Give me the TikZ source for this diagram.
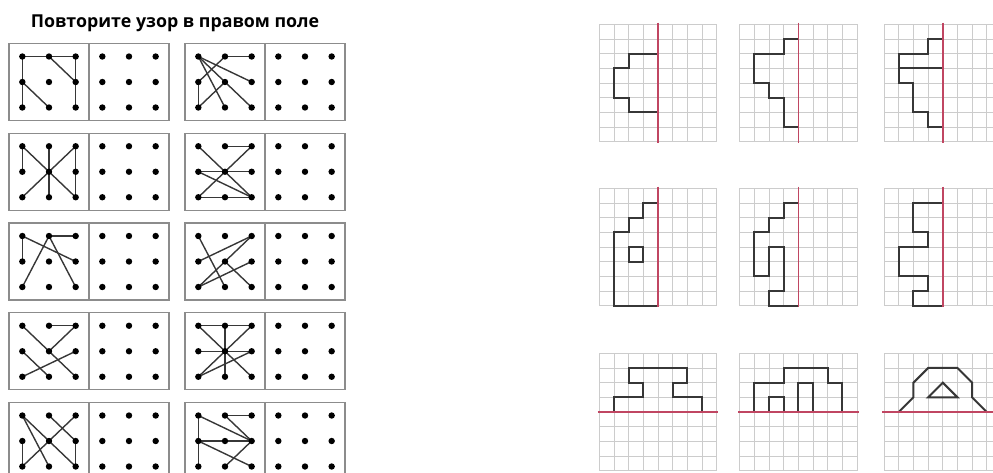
\documentclass[tikz,border=0pt]{standalone}
\usepackage{fontspec}
\setmainfont{Open Sans}
\usetikzlibrary{calc}

\definecolor{mirror}{RGB}{192,70,98}
\definecolor{gridgray}{RGB}{204,204,204}
\definecolor{inkgray}{RGB}{55,55,55}
\definecolor{framegray}{RGB}{140,140,140}

\tikzset{
  panelframe/.style={draw=framegray, line width=1.2pt},
  patline/.style={draw=inkgray, line width=1.4pt},
  gridline/.style={draw=gridgray, line width=0.9pt},
  mirrorline/.style={draw=mirror, line width=1.6pt},
  figline/.style={draw=inkgray, line width=2pt},
}

% dot panel: name, left, top, pattern pairs
\newcommand{\dotpanel}[4]{%
  \foreach \c in {0,1,2}
    \foreach \r in {0,1,2} {
      \coordinate (#1-\c\r) at ({#2+13.33+26.67*\c},{#3+13+25.5*\r});
      \coordinate (#1copy-\c\r) at ({#2+93.33+26.67*\c},{#3+13+25.5*\r});
    }
  \draw[panelframe] (#2,#3) rectangle ++(160,77);
  \draw[panelframe] ({#2+80},#3) -- ++(0,77);
  \foreach \p/\q in {#4} \draw[patline] (#1-\p) to (#1-\q);
  \foreach \c in {0,1,2}
    \foreach \r in {0,1,2} {
      \fill (#1-\c\r) circle [radius=3.2pt];
      \fill (#1copy-\c\r) circle [radius=3.2pt];
    }
}

% 8x8 squared field
\newcommand{\gridbase}{%
  \foreach \k in {0,...,8} {
    \draw[gridline] (\k,0) to (\k,8);
    \draw[gridline] (0,\k) to (8,\k);
  }
}

\begin{document}
\begin{tikzpicture}[x=1pt,y=-1pt]
\useasboundingbox (0,0) rectangle (993,472);
\clip (0,0) rectangle (993,472);

\node[font=\bfseries\fontsize{17.8}{21}\selectfont, anchor=base] (title) at (175,27.7) {Повторите узор в правом поле};

%dot panels
\dotpanel{rowAa}{9}{43.5}{00/20, 00/02, 10/21, 20/22, 01/12}
\dotpanel{rowAb}{185}{43.5}{10/20, 00/21, 00/22, 00/12, 01/10, 01/02, 02/11}
\dotpanel{rowBa}{9}{133.25}{00/01, 00/22, 10/12, 20/02, 20/22}
\dotpanel{rowBb}{185}{133.25}{10/20, 20/02, 00/22, 01/21, 01/22, 02/22}
\dotpanel{rowCa}{9}{223}{00/01, 00/21, 10/20, 10/02, 10/22}
\dotpanel{rowCb}{185}{223}{00/12, 01/20, 02/20, 02/21, 11/22}
\dotpanel{rowDa}{9}{312.75}{00/22, 10/20, 20/11, 01/12, 02/21}
\dotpanel{rowDb}{185}{312.75}{00/20, 10/12, 00/22, 01/21, 20/02, 02/21}
\dotpanel{rowEa}{9}{402.5}{00/12, 00/22, 10/21, 20/02, 01/02, 21/22}
\dotpanel{rowEb}{185}{402.5}{10/20, 00/02, 00/21, 10/21, 01/21, 01/22, 12/21}

%grids, first row
\begin{scope}[shift={(599.3,24.3)}, x=14.67pt, y=-14.67pt]
  \gridbase
  \draw[figline] (4,2) -- (2,2) -- (2,3) -- (1,3) -- (1,5) -- (2,5) -- (2,6) -- (4,6);
  \draw[mirrorline] (4,-0.12) to (4,8.12);
\end{scope}

\begin{scope}[shift={(739.7,24.3)}, x=14.67pt, y=-14.67pt]
  \gridbase
  \draw[figline] (4,1) -- (3,1) -- (3,2) -- (1,2) -- (1,4) -- (2,4) -- (2,5) -- (3,5) -- (3,7) -- (4,7);
  \draw[mirrorline] (4,-0.12) to (4,8.12);
\end{scope}

\begin{scope}[shift={(884.1,24.3)}, x=14.67pt, y=-14.67pt]
  \gridbase
  \draw[figline] (4,1) -- (3,1) -- (3,2) -- (1,2) -- (1,4) -- (2,4) -- (2,6) -- (3,6) -- (3,7) -- (4,7);
  \draw[figline] (1,3) to (4,3);
  \draw[mirrorline] (4,-0.12) to (4,8.12);
\end{scope}

%grids, second row
\begin{scope}[shift={(599.3,188.3)}, x=14.67pt, y=-14.67pt]
  \gridbase
  \draw[figline] (4,1) -- (3,1) -- (3,2) -- (2,2) -- (2,3) -- (1,3) -- (1,8) -- (4,8);
  \draw[figline] (2,4) rectangle (3,5);
  \draw[mirrorline] (4,-0.12) to (4,8.12);
\end{scope}

\begin{scope}[shift={(739.7,188.3)}, x=14.67pt, y=-14.67pt]
  \gridbase
  \draw[figline] (4,1) -- (3,1) -- (3,2) -- (2,2) -- (2,3) -- (1,3) -- (1,6) -- (2,6) -- (2,4) -- (3,4) -- (3,7) -- (2,7) -- (2,8) -- (4,8);
  \draw[mirrorline] (4,-0.12) to (4,8.12);
\end{scope}

\begin{scope}[shift={(884.1,188.3)}, x=14.67pt, y=-14.67pt]
  \gridbase
  \draw[figline] (4,1) -- (2,1) -- (2,3) -- (3,3) -- (3,4) -- (1,4) -- (1,6) -- (3,6) -- (3,7) -- (2,7) -- (2,8) -- (4,8);
  \draw[mirrorline] (4,-0.12) to (4,8.12);
\end{scope}

%grids, third row
\begin{scope}[shift={(599.3,353.3)}, x=14.67pt, y=-14.67pt]
  \gridbase
  \draw[figline] (1,4) -- (1,3) -- (3,3) -- (3,2) -- (2,2) -- (2,1) -- (6,1) -- (6,2) -- (5,2) -- (5,3) -- (7,3) -- (7,4);
  \draw[mirrorline] (-0.12,4) to (8.12,4);
\end{scope}

\begin{scope}[shift={(739.7,353.3)}, x=14.67pt, y=-14.67pt]
  \gridbase
  \draw[figline] (1,4) -- (1,2) -- (3,2) -- (3,1) -- (6,1) -- (6,2) -- (7,2) -- (7,4);
  \draw[figline] (2,4) -- (2,3) -- (3,3) -- (3,4);
  \draw[figline] (4,4) -- (4,2) -- (5,2) -- (5,4);
  \draw[mirrorline] (-0.12,4) to (8.12,4);
\end{scope}

\begin{scope}[shift={(884.1,353.3)}, x=14.67pt, y=-14.67pt]
  \gridbase
  \draw[figline] (1,4) -- (2,3) -- (2,2) -- (3,1) -- (5,1) -- (6,2) -- (6,3) -- (7,4);
  \draw[figline] (3,3) -- (4,2) -- (5,3) -- cycle;
  \draw[mirrorline] (-0.12,4) to (8.12,4);
\end{scope}

\end{tikzpicture}
\end{document}
